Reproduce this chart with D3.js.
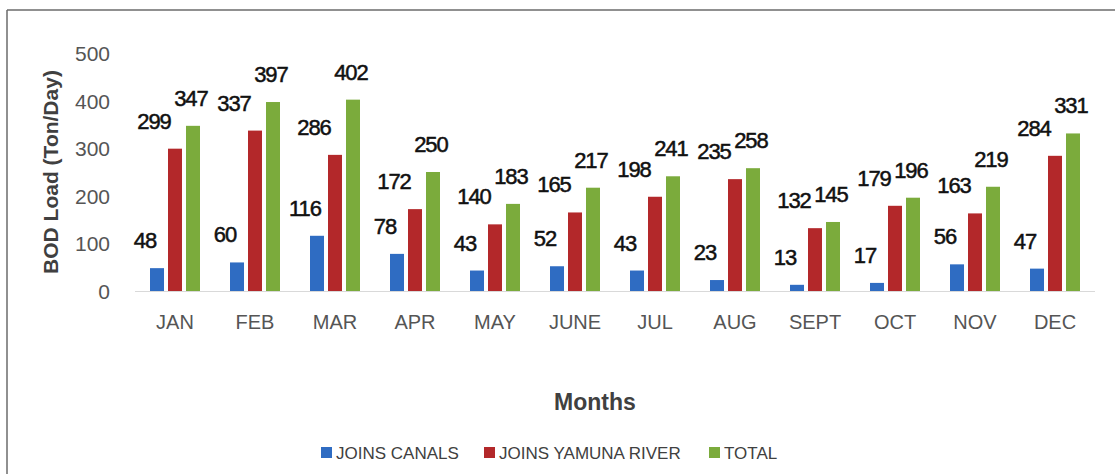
<!DOCTYPE html>
<html>
<head>
<meta charset="utf-8">
<script src="https://cdn.jsdelivr.net/npm/d3@7"></script>
<style>
  html, body { margin: 0; padding: 0; background: #fff; }
  svg { display: block; font-family: "Liberation Sans", Arial, sans-serif; }
</style>
</head>
<body>
<svg id="chart" width="1115" height="474"></svg>
<script>
const months = ["JAN","FEB","MAR","APR","MAY","JUNE","JUL","AUG","SEPT","OCT","NOV","DEC"];
const seriesNames = ["JOINS CANALS","JOINS YAMUNA RIVER","TOTAL"];
const joinsCanals = [48,60,116,78,43,52,43,23,13,17,56,47];
const joinsYamuna = [299,337,286,172,140,165,198,235,132,179,163,284];
const totals = [347,397,402,250,183,217,241,258,145,196,219,331];
const yTicks = [0,100,200,300,400,500];
const yTitle = "BOD Load (Ton/Day)";
const xTitle = "Months";

const seriesValues = [joinsCanals, joinsYamuna, totals];
const colors = ["#2f6cc2", "#b3282a", "#7bab3c"];
const labelDx = [-12, -21, -2];

const svg = d3.select("#chart");

// frame
svg.append("line").attr("x1", 7).attr("x2", 1115).attr("y1", 10).attr("y2", 10)
  .attr("stroke", "#6b6b6b").attr("stroke-width", 1.5);
svg.append("line").attr("x1", 7).attr("x2", 7).attr("y1", 10).attr("y2", 474)
  .attr("stroke", "#6b6b6b").attr("stroke-width", 1.5);

const x0 = d3.scaleBand().domain(months).range([135, 1095]).paddingInner(0.375).paddingOuter(0.1875);
const x1 = d3.scaleBand().domain(seriesNames).range([0, x0.bandwidth()]).paddingInner(0.222).paddingOuter(0);
const y = d3.scaleLinear().domain([0, 500]).range([291, 53]);

// y axis tick labels
const yAxis = d3.axisLeft(y).tickValues(yTicks).tickSize(0).tickPadding(0);
const yg = svg.append("g").attr("transform", "translate(110,0)").call(yAxis);
yg.select(".domain").remove();
yg.selectAll("text").attr("font-size", 21).attr("fill", "#555")
  .attr("font-family", "Liberation Sans, Arial, sans-serif").attr("dy", "0.36em");

// baseline
svg.append("line").attr("x1", 135).attr("x2", 1095).attr("y1", y(0) + 0.5).attr("y2", y(0) + 0.5)
  .attr("stroke", "#d9d9d9").attr("stroke-width", 1.2);

// x axis labels
const xAxis = d3.axisBottom(x0).tickSize(0).tickPadding(0);
const xg = svg.append("g").attr("transform", "translate(0,315)").call(xAxis);
xg.select(".domain").remove();
xg.selectAll("text").attr("font-size", 20).attr("fill", "#555")
  .attr("font-family", "Liberation Sans, Arial, sans-serif");

// bars
const data = [];
months.forEach((m, i) => {
  seriesNames.forEach((s, j) => {
    data.push({ month: m, series: s, si: j, value: seriesValues[j][i] });
  });
});

svg.append("g").selectAll("rect").data(data).join("rect")
  .attr("x", d => x0(d.month) + x1(d.series))
  .attr("y", d => y(d.value))
  .attr("width", x1.bandwidth())
  .attr("height", d => y(0) - y(d.value))
  .attr("fill", d => colors[d.si]);

// data labels
svg.append("g").selectAll("text").data(data).join("text")
  .attr("x", d => x0(d.month) + x1(d.series) + x1.bandwidth() / 2 + labelDx[d.si])
  .attr("y", d => y(d.value) - 20)
  .attr("text-anchor", "middle")
  .attr("font-size", 22)
  .attr("letter-spacing", -1)
  .attr("fill", "#111")
  .attr("stroke", "#111").attr("stroke-width", 0.5)
  .text(d => d.value);

// axis titles
svg.append("text")
  .attr("transform", "translate(58,172) rotate(-90)")
  .attr("text-anchor", "middle")
  .attr("font-size", 21).attr("font-weight", "bold").attr("fill", "#404040")
  .text(yTitle);

svg.append("text")
  .attr("x", 595).attr("y", 410)
  .attr("text-anchor", "middle")
  .attr("font-size", 23).attr("font-weight", "bold").attr("fill", "#404040")
  .text(xTitle);

// legend
const legendX = [321, 484, 709];
const lg = svg.append("g").selectAll("g").data(seriesNames).join("g")
  .attr("transform", (d, i) => `translate(${legendX[i]},447)`);
lg.append("rect").attr("width", 11).attr("height", 11).attr("fill", (d, i) => colors[i]);
lg.append("text").attr("x", 15).attr("y", 11.5)
  .attr("font-size", 17).attr("fill", "#404040").text(d => d);
</script>
</body>
</html>
